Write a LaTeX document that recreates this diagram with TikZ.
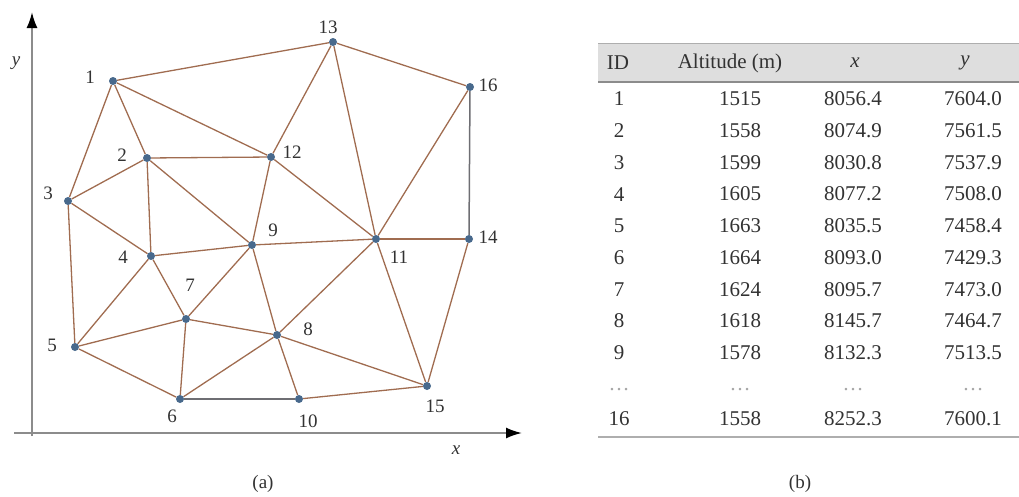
\documentclass[tikz,border=0pt]{standalone}
\usepackage{fontspec}
\setmainfont{Liberation Serif}
\usetikzlibrary{arrows.meta,backgrounds}
\definecolor{edgec}{RGB}{160,108,80}
\definecolor{edgeg}{RGB}{110,110,115}
\definecolor{dotc}{RGB}{72,105,140}
\definecolor{txt}{RGB}{50,50,50}
\definecolor{axisc}{RGB}{140,140,140}
\definecolor{headc}{RGB}{222,222,222}
\tikzset{
  dot/.style={circle,fill=dotc,draw=none,inner sep=0pt,minimum size=8pt},
  edge/.style={draw=edgec,line width=1.3pt},
  gedge/.style={draw=edgeg,line width=1.5pt},
  lab/.style={text=txt,inner sep=0pt,font=\fontsize{19}{22}\selectfont},
  tab/.style={text=txt,inner sep=0pt,font=\fontsize{21}{24}\selectfont},
  axis/.style={draw=axisc,line width=2pt,-{Latex[length=16pt,width=11pt,black]}},
}
\begin{document}
\begin{tikzpicture}[x=1pt,y=-1pt]
\useasboundingbox (0,0) rectangle (1019,496);
% axes
\coordinate (o1) at (32,436);
\coordinate (ytip) at (32,12);
\coordinate (x0) at (14,433);
\coordinate (xtip) at (522,433);
\draw[axis] (o1) -- (ytip);
\draw[axis] (x0) -- (xtip);
\node[lab,font=\fontsize{19}{22}\selectfont\itshape] (ay) at (16,63) {y};
\node[lab,font=\fontsize{19}{22}\selectfont\itshape] (ax) at (456,450) {x};
% dots
\node[dot] (n1) at (113,81) {};
\node[dot] (n2) at (147,158) {};
\node[dot] (n3) at (68,201) {};
\node[dot] (n4) at (151,256) {};
\node[dot] (n5) at (75,347) {};
\node[dot] (n6) at (180,399) {};
\node[dot] (n7) at (186,319) {};
\node[dot] (n8) at (277,335) {};
\node[dot] (n9) at (252,245) {};
\node[dot] (n10) at (299,399) {};
\node[dot] (n11) at (376,239) {};
\node[dot] (n12) at (271,157) {};
\node[dot] (n13) at (333,42) {};
\node[dot] (n14) at (469,239) {};
\node[dot] (n15) at (427,386) {};
\node[dot] (n16) at (470,87) {};
\begin{scope}[on background layer]
\foreach \a/\b in {1/13,13/16,1/3,1/2,1/12,13/12,13/11,16/11,2/12,2/3,2/4,2/9,12/9,12/11,3/4,3/5,4/9,9/11,11/14,4/5,4/7,9/7,9/8,11/8,11/15,14/15,5/7,7/8,5/6,7/6,6/8,8/10,8/15,10/15}
  \draw[edge] (n\a) -- (n\b);
\draw[gedge] (n16) -- (n14);
\draw[gedge] (n6) -- (n10);
\end{scope}
% labels
\node[lab] (l1) at (90,77) {1};
\node[lab] (l2) at (122,155) {2};
\node[lab] (l3) at (48,193) {3};
\node[lab] (l4) at (123,257) {4};
\node[lab] (l5) at (52,345) {5};
\node[lab] (l6) at (172,416) {6};
\node[lab] (l7) at (190,285) {7};
\node[lab] (l8) at (308,329) {8};
\node[lab] (l9) at (273,230) {9};
\node[lab] (l10) at (308,421) {10};
\node[lab] (l11) at (399,257) {11};
\node[lab] (l12) at (292,152) {12};
\node[lab] (l13) at (328,27) {13};
\node[lab] (l14) at (488,237) {14};
\node[lab] (l15) at (435,406) {15};
\node[lab] (l16) at (488,85) {16};
\node[lab] (capa) at (263,484) {(a)};
% table
\fill[headc] (598,43) rectangle (1019,82);
\draw[axisc!70,line width=1pt] (598,43) -- (1019,43);
\draw[axisc,line width=1.2pt] (598,82) -- (1019,82);
\draw[axisc!70,line width=1.2pt] (598,437) -- (1019,437);
\node[tab] (hid) at (618,63) {ID};
\node[tab] (halt) at (730,63) {Altitude (m)};
\node[tab,font=\fontsize{21}{24}\selectfont\itshape] (hx) at (855,63) {x};
\node[tab,font=\fontsize{21}{24}\selectfont\itshape] (hy) at (965,63) {y};
\foreach \i/\al/\xx/\yy [count=\k from 0] in {1/1515/8056.4/7604.0,2/1558/8074.9/7561.5,3/1599/8030.8/7537.9,4/1605/8077.2/7508.0,5/1663/8035.5/7458.4,6/1664/8093.0/7429.3,7/1624/8095.7/7473.0,8/1618/8145.7/7464.7,9/1578/8132.3/7513.5}{
  \node[tab] (id\i) at (619,99+31.7*\k) {\i};
  \node[tab] (al\i) at (740,99+31.7*\k) {\al};
  \node[tab] (x\i) at (853,99+31.7*\k) {\xx};
  \node[tab] (y\i) at (973,99+31.7*\k) {\yy};
}
\foreach \c/\xc in {idd/619,ald/740,xd/853,yd/973}
  \node[tab,text=gray!70] (\c) at (\xc,390) {\ldots};
\node[tab] (id16) at (619,419) {16};
\node[tab] (al16) at (740,419) {1558};
\node[tab] (x16) at (853,419) {8252.3};
\node[tab] (y16) at (973,419) {7600.1};
\node[lab] (capb) at (800,484) {(b)};
\end{tikzpicture}
\end{document}
